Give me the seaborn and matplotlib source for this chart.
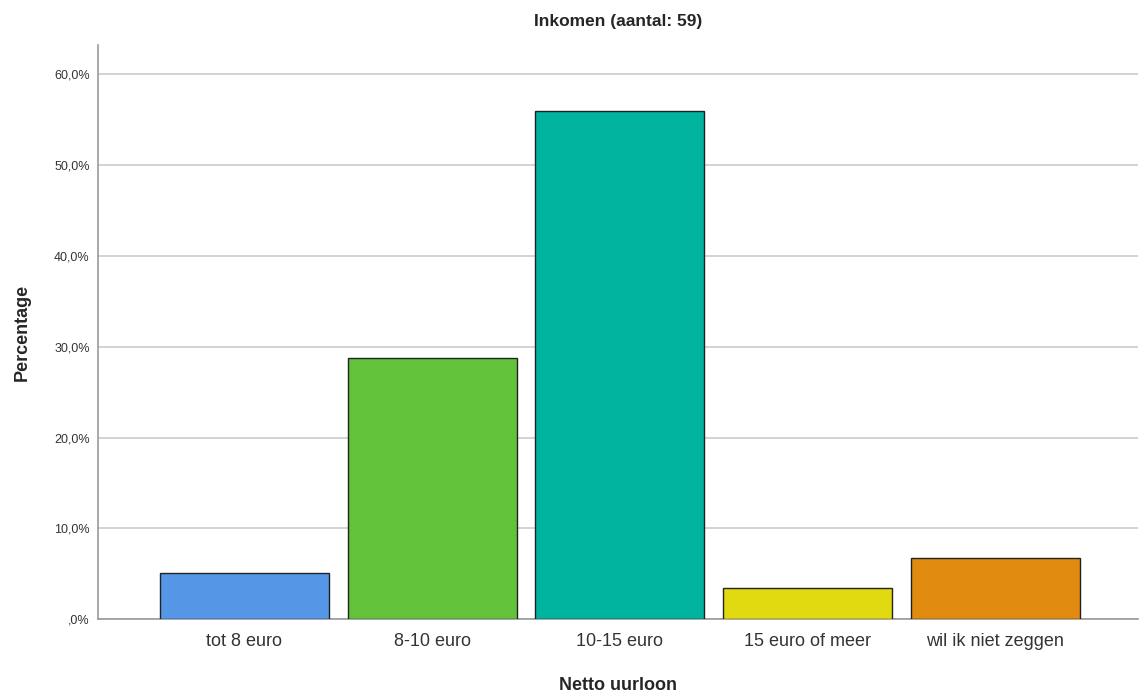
import numpy as np
import pandas as pd
import matplotlib
matplotlib.use("Agg")
import matplotlib.pyplot as plt
import seaborn as sns
from matplotlib.ticker import FuncFormatter

### DATA ###
categories = ["tot 8 euro", "8-10 euro", "10-15 euro", "15 euro of meer", "wil ik niet zeggen"]
counts = [3, 17, 33, 2, 4]
percentages = [100 * c / sum(counts) for c in counts]
bar_colors = ["#5596E6", "#62C23A", "#00B39F", "#E1DA10", "#E08A10"]

df = pd.DataFrame({"cat": categories, "pct": percentages})

### PLOT ###
sns.set_style("white")
plt.rcParams["font.family"] = ["Liberation Sans", "DejaVu Sans"]

fig = plt.figure(figsize=(11.39, 6.95), dpi=100)
ax = fig.add_axes([0.086, 0.109, 0.913, 0.826])

sns.barplot(data=df, x="cat", y="pct", hue="cat", palette=bar_colors, saturation=1,
            width=0.9, edgecolor="#222222", linewidth=1.0, legend=False, ax=ax, zorder=3)

ax.set_xlim(-0.78, 4.76)
ax.set_ylim(0, 63.2)
ax.set_yticks([0, 10, 20, 30, 40, 50, 60])
ax.yaxis.set_major_formatter(FuncFormatter(
    lambda v, p: ",0%" if v == 0 else ("%.1f%%" % v).replace(".", ",")))
ax.grid(axis="y", color="#cccccc", linewidth=1.2, zorder=0)
ax.tick_params(axis="y", labelsize=9, length=0, pad=6, colors="#333333")
ax.tick_params(axis="x", labelsize=13, length=0, pad=10, colors="#333333")

for s in ["top", "right"]:
    ax.spines[s].set_visible(False)
for s in ["left", "bottom"]:
    ax.spines[s].set_color("#999999")
    ax.spines[s].set_linewidth(1.2)

ax.set_xlabel("Netto uurloon", fontsize=13, fontweight="bold", labelpad=19)
ax.set_ylabel("Percentage", fontsize=13, fontweight="bold", labelpad=17)
ax.set_title("Inkomen (aantal: 59)", fontsize=12.5, fontweight="bold", pad=14)

plt.savefig("out.png", dpi=100)
